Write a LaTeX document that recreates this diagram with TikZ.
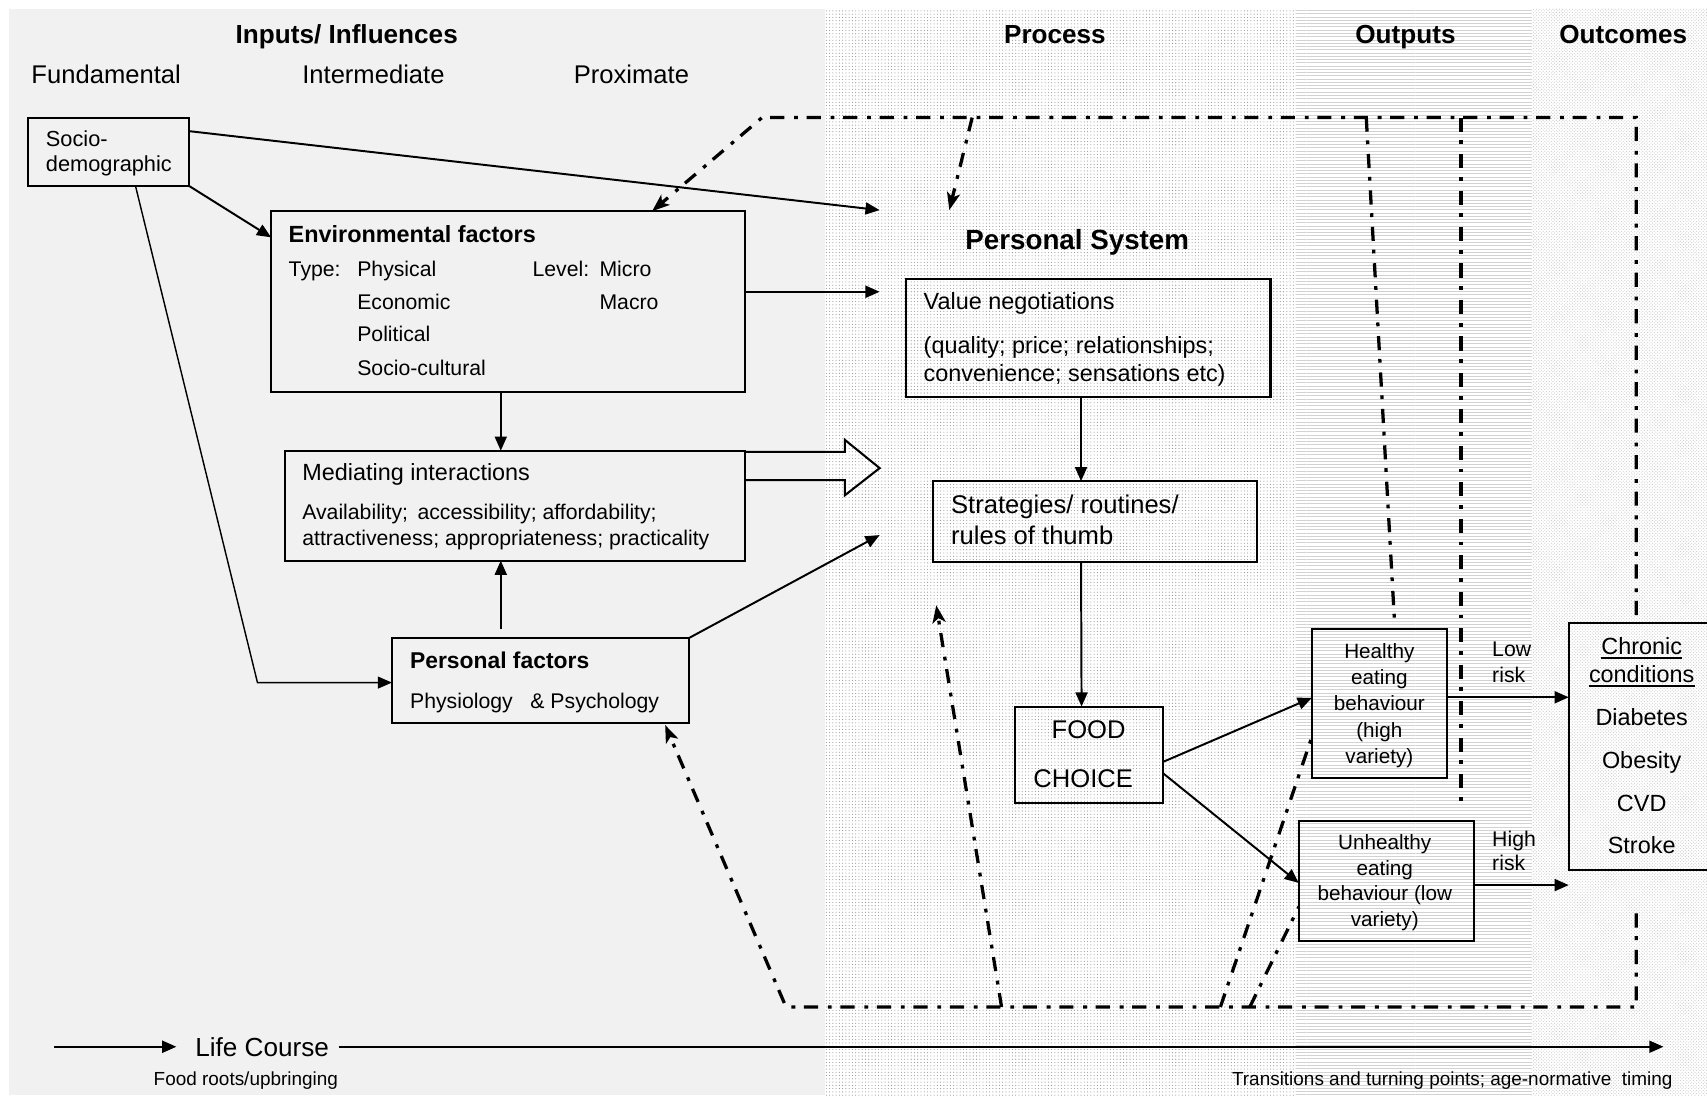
\documentclass[tikz,border=0pt]{standalone}
\usepackage{fontspec}
\setmainfont{Liberation Sans}
\usetikzlibrary{arrows.meta,patterns}
\newcommand\fsz[1]{\fontsize{#1}{#1}\selectfont}
\begin{document}
\begin{tikzpicture}[x=1pt,y=-1pt,
  box/.style={draw, line width=1.9pt, inner sep=0pt, outer sep=0pt},
  t/.style={inner sep=0pt, anchor=base west},
  tc/.style={inner sep=0pt, anchor=base},
  arr/.style={line width=1.8pt, -{Triangle[length=13pt,width=11pt]}},
  thinarr/.style={line width=1.3pt, -{Triangle[length=13pt,width=11pt]}},
  ddash/.style={line width=3pt, dash pattern=on 13pt off 8pt on 3.5pt off 9pt},
  darr/.style={ddash, -{Stealth[length=16pt,width=12pt,inset=4pt]}},
  hdr/.style={tc, font=\bfseries\fsz{24}},
  col/.style={tc, font=\fsz{23.5}}
]
\useasboundingbox (0,0) rectangle (1568,1006);
% backgrounds
\fill[white] (0,0) rectangle (1568,1006);
\fill[gray!11] (8,8) rectangle (758,1006);
\fill[pattern=dots, pattern color=gray!85] (758,8) rectangle (1190,1006);
\fill[pattern=horizontal lines, pattern color=gray!35] (1190,8) rectangle (1407,1006);
\fill[pattern=crosshatch dots, pattern color=gray!45] (1407,8) rectangle (1568,1006);

% headers
\node[hdr] (hIn) at (318.5,39.5) {Inputs/ Influences};
\node[hdr] (hPr) at (969,39.5) {Process};
\node[hdr] (hOut) at (1291,39.5) {Outputs};
\node[hdr] (hOc) at (1491,39.5) {Outcomes};
\node[col] (cF) at (97.5,76.5) {Fundamental};
\node[col] (cI) at (343,76.5) {Intermediate};
\node[col] (cP) at (580,76.5) {Proximate};

% boxes
\node[box, minimum width=148pt, minimum height=63pt] (socio) at (100,139.5) {};
\node[box, minimum width=435pt, minimum height=166pt] (env) at (466.5,277) {};
\node[box, minimum width=422pt, minimum height=101pt] (med) at (473,464.5) {};
\node[box, minimum width=273pt, minimum height=78pt] (pers) at (496.5,625) {};
\node[box, minimum width=335pt, minimum height=109pt] (value) at (999.5,310.5) {};
\node[box, minimum width=298pt, minimum height=74pt] (strat) at (1006,479) {};
\node[box, minimum width=136pt, minimum height=89pt] (food) at (1000,693.5) {};
\node[box, minimum width=124pt, minimum height=137pt] (healthy) at (1267,646.5) {};
\node[box, minimum width=161pt, minimum height=110pt] (unhealthy) at (1273.5,809) {};
\node[box, minimum width=139pt, minimum height=227pt] (chronic) at (1510.5,685.5) {};

% socio text
\node[t, font=\fsz{20}] (s1) at (42,134.5) {Socio-};
\node[t, font=\fsz{20}] (s2) at (42,157.7) {demographic};
% env text
\node[t, font=\bfseries\fsz{21.5}] (e0) at (265,223) {Environmental factors};
\node[t, font=\fsz{19.5}] (e1) at (265,254) {Type:};
\node[t, font=\fsz{19.5}] (e2) at (328,254) {Physical};
\node[t, font=\fsz{19.5}] (e3) at (489,254) {Level:};
\node[t, font=\fsz{19.5}] (e4) at (550.5,254) {Micro};
\node[t, font=\fsz{19.5}] (e5) at (328,284) {Economic};
\node[t, font=\fsz{19.5}] (e6) at (550.5,284) {Macro};
\node[t, font=\fsz{19.5}] (e7) at (328,314) {Political};
\node[t, font=\fsz{19.5}] (e8) at (328,344.5) {Socio-cultural};
% mediating
\node[t, font=\fsz{21.5}] (m0) at (277.5,441.5) {Mediating interactions};
\node[t, font=\fsz{19.5}] (m1) at (277.5,477.5) {Availability;\, accessibility; affordability;};
\node[t, font=\fsz{19.5}] (m2) at (277.5,501.5) {attractiveness; appropriateness; practicality};
% personal factors
\node[t, font=\bfseries\fsz{21}] (p0) at (376.5,614) {Personal factors};
\node[t, font=\fsz{19.5}] (p1) at (376.5,650.5) {Physiology \ \ \& Psychology};
% personal system
\node[tc, font=\bfseries\fsz{25.5}] (psys) at (989.5,229) {Personal System};
\node[t, font=\fsz{21.5}] (v0) at (848.3,284) {Value negotiations};
\node[t, font=\fsz{21.5}] (v1) at (848.3,324.5) {(quality; price; relationships;};
\node[t, font=\fsz{21.5}] (v2) at (848.3,350) {convenience; sensations etc)};
\node[t, font=\fsz{23.5}] (st1) at (873.5,471.5) {Strategies/ routines/};
\node[t, font=\fsz{23.5}] (st2) at (873.5,500.5) {rules of thumb};
\node[tc, font=\fsz{23.5}] (f1) at (1000,678) {FOOD};
\node[tc, font=\fsz{23.5}] (f2) at (995,723) {CHOICE};
% outputs
\node[tc, font=\fsz{19}] (h1) at (1267,604.7) {Healthy};
\node[tc, font=\fsz{19}] (h2) at (1267,629) {eating};
\node[tc, font=\fsz{19}] (h3) at (1267,653) {behaviour};
\node[tc, font=\fsz{19}] (h4) at (1267,677.3) {(high};
\node[tc, font=\fsz{19}] (h5) at (1267,701.2) {variety)};
\node[tc, font=\fsz{19}] (u1) at (1272,780) {Unhealthy};
\node[tc, font=\fsz{19}] (u2) at (1272,804.5) {eating};
\node[tc, font=\fsz{19}] (u3) at (1272,827.6) {behaviour (low};
\node[tc, font=\fsz{19}] (u4) at (1272,851.2) {variety)};
\node[t, font=\fsz{19.5}] (lr1) at (1370.5,603.2) {Low};
\node[t, font=\fsz{19.5}] (lr2) at (1370.5,626.8) {risk};
\node[t, font=\fsz{19.5}] (hr1) at (1370.5,777.7) {High};
\node[t, font=\fsz{19.5}] (hr2) at (1370.5,799.7) {risk};
% outcomes
\node[tc, font=\fsz{21.5}] (c1) at (1508,601.6) {Chronic};
\node[tc, font=\fsz{21.5}] (c2) at (1508,627) {conditions};
\draw[line width=1.3pt] ([yshift=-3pt]c1.base west) -- ([yshift=-3pt]c1.base east);
\draw[line width=1.3pt] ([yshift=-3pt]c2.base west) -- ([yshift=-3pt]c2.base east);
\node[tc, font=\fsz{21.5}] (c3) at (1508,666.8) {Diabetes};
\node[tc, font=\fsz{21.5}] (c4) at (1508,705.7) {Obesity};
\node[tc, font=\fsz{21.5}] (c5) at (1508,745.2) {CVD};
\node[tc, font=\fsz{21.5}] (c6) at (1508,783.8) {Stroke};

% life course
\node[t, font=\fsz{24}] (lc) at (179.2,970.6) {Life Course};
\node[t, font=\fsz{17.4}] (fr) at (141,997.5) {Food roots/upbringing};
\node[inner sep=0pt, anchor=base east, font=\fsz{17.4}] (tr) at (1536.5,997.5) {Transitions and turning points; age-normative\ \ timing};
\coordinate (lcA) at (50,961.5);
\coordinate (lcB) at (162,961.5);
\coordinate (lcC) at (311,961.5);
\coordinate (lcD) at (1528,961.5);
\draw[arr] (lcA) -- (lcB);
\draw[arr] (lcC) -- (lcD);

% free ends on the personal system
\coordinate (psA) at (808,193);
\coordinate (psB) at (808,268);
\coordinate (psC) at (808,491.5);
\coordinate (psD) at (872,193);
\coordinate (psE) at (860,556);
\coordinate (bend) at (236.5,627);

% solid connectors
\draw[arr] ([yshift=-12.5pt]socio.north east) -- (psA);
\draw[arr] (socio.south east) -- ([yshift=-24pt]env.north west);
\draw[thinarr] ([xshift=24.5pt]socio.south) -- (bend) -- (bend -| pers.west);
\draw[arr] ([yshift=-74pt]env.north east) -- (psB);
\draw[arr] ([xshift=-6.5pt]env.south) -- ([xshift=-13pt]med.north);
\draw[arr] ([xshift=-36.5pt,yshift=8pt]pers.north) -- ([xshift=-13pt]med.south);
\draw[arr] (pers.north east) -- (psC);
\draw[line width=1.9pt, line join=miter] ([yshift=-1pt]med.north east) -- ++(92,0) -- ++(0,-11) -- ++(32,26) -- ++(-32,25) -- ++(0,-14) -- ([yshift=-27pt]med.north east);
\draw[arr] ([xshift=-6.5pt]value.south) -- ([xshift=-13pt]strat.north);
\draw[arr] ([xshift=-13pt]strat.south) -- ([xshift=-6.5pt]food.north);
\draw[arr] ([yshift=-51pt]food.north east) -- ([yshift=-63pt]healthy.north west);
\draw[arr] ([yshift=-61pt]food.north east) -- ([yshift=-57pt]unhealthy.north west);
\coordinate (hOutP) at ([yshift=-62.5pt]healthy.north east);
\coordinate (uOutP) at ([yshift=-59pt]unhealthy.north east);
\draw[arr] (hOutP) -- (hOutP -| chronic.west);
\draw[arr] (uOutP) -- (uOutP -| chronic.west);

% dash-dot feedback lines
\coordinate (tR) at (1503,108);
\coordinate (tL) at (700,108);
\coordinate (bR) at (1503,925);
\coordinate (bL) at (722,925);
\coordinate (rTop) at (1503,565);
\coordinate (rBot) at (1503,839);
\coordinate (tA) at (893,108);
\coordinate (tG) at (1255,108);
\coordinate (tH) at (1342,108);
\coordinate (hH) at (1342,742);
\coordinate (bD) at (920,925);
\coordinate (bE) at (1121,925);
\coordinate (bF) at (1148,925);
\draw[darr] (rTop) -- (tR) -- (tL) -- ([xshift=132.5pt]env.north);
\draw[darr] (rBot) -- (bR) -- (bL) -- ([xshift=-22pt,yshift=-2pt]pers.south east);
\draw[darr] (tA) -- (psD);
\draw[darr] (bD) -- (psE);
\draw[ddash] (bE) -- ([yshift=-99pt]healthy.north west);
\draw[ddash] (bF) -- ([yshift=-79pt]unhealthy.north west);
\draw[ddash] (tG) -- ([xshift=14pt,yshift=6pt]healthy.north);
\draw[ddash] (tH) -- (hH);
\end{tikzpicture}
\end{document}
